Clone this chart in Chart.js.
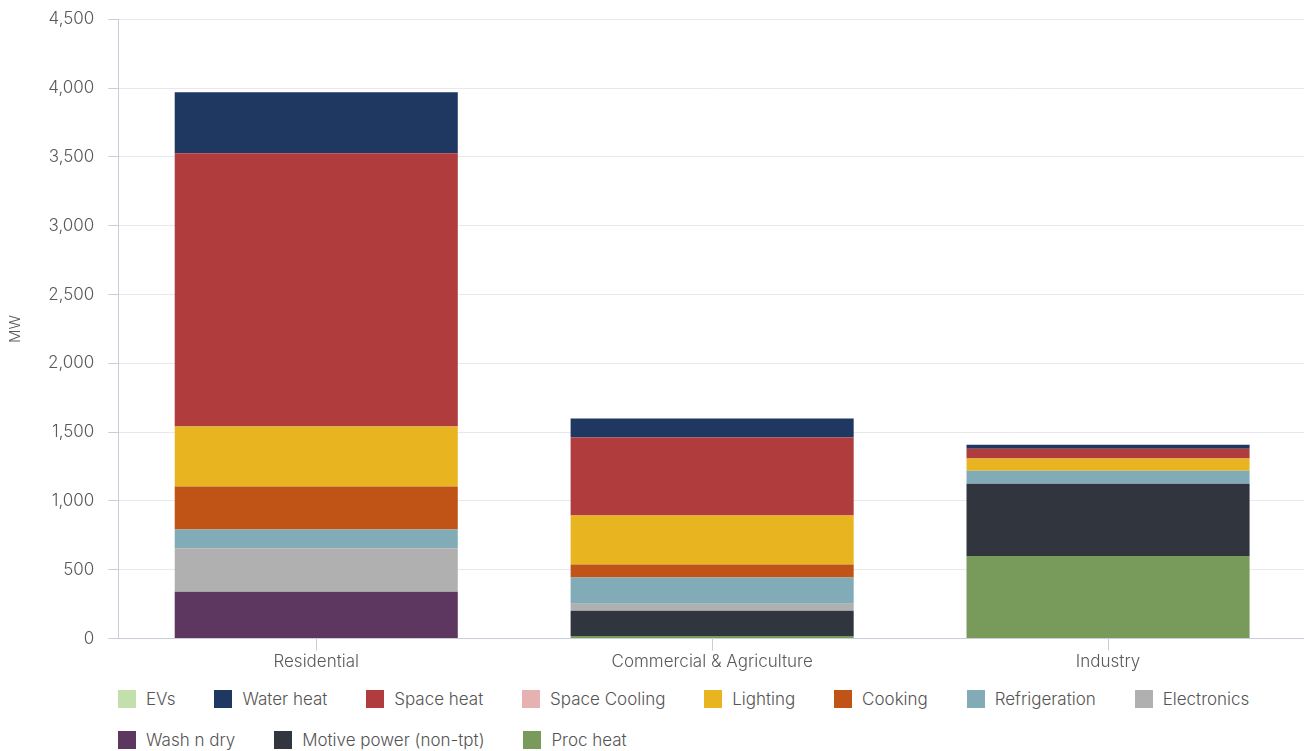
<!DOCTYPE html>
<html>
<head>
<meta charset="utf-8">
<script src="https://cdn.jsdelivr.net/npm/chart.js@4.4.1/dist/chart.umd.min.js"></script>
<style>
  html, body { margin: 0; padding: 0; background: #fff; overflow: hidden; }
  #wrap { position: relative; top: -5px; width: 1306px; height: 678px; }
  #legend {
    position: absolute; left: 118px; top: 690px; width: 1180px;
    display: flex; flex-wrap: wrap; row-gap: 23px;
    font-family: Inter, Roboto, sans-serif; font-weight: 300;
    font-size: 17px; color: #555;
  }
  .item { display: flex; align-items: center; margin-right: 38.8px; height: 18px; }
  .box { width: 18px; height: 18px; margin-right: 10px; }
</style>
</head>
<body>
<div id="wrap"><canvas id="chart"></canvas></div>
<div id="legend"></div>
<script>
const categories = ["Residential", "Commercial & Agriculture", "Industry"];

// stacked bottom to top
const procHeat      = [0, 18, 600];
const motivePower   = [0, 185, 525];
const washNDry      = [340, 0, 0];
const electronics   = [316, 50, 0];
const refrigeration = [136, 190, 95];
const cooking       = [313, 95, 0];
const lighting      = [436, 356, 88];
const spaceCooling  = [0, 0, 0];
const spaceHeat     = [1985, 567, 72];
const waterHeat     = [443, 138, 29];
const evs           = [0, 0, 0];

const yTicks = [0, 500, 1000, 1500, 2000, 2500, 3000, 3500, 4000, 4500];

const series = [
  { label: "Proc heat", data: procHeat, color: "#789b5c" },
  { label: "Motive power (non-tpt)", data: motivePower, color: "#31353e" },
  { label: "Wash n dry", data: washNDry, color: "#5e3761" },
  { label: "Electronics", data: electronics, color: "#b0b0b0" },
  { label: "Refrigeration", data: refrigeration, color: "#82abb8" },
  { label: "Cooking", data: cooking, color: "#c05416" },
  { label: "Lighting", data: lighting, color: "#e8b520" },
  { label: "Space Cooling", data: spaceCooling, color: "#e5b1b1" },
  { label: "Space heat", data: spaceHeat, color: "#b03c3e" },
  { label: "Water heat", data: waterHeat, color: "#1f3862" },
  { label: "EVs", data: evs, color: "#c3dfac" },
];

const axisCol = "#c9cdda";
const gridCol = "#e7e8ed";
const textCol = "#5a5a5a";
const font = { family: "Inter", size: 17, weight: 300 };

const ctx = document.getElementById("chart").getContext("2d");
const chart = new Chart(ctx, {
  type: "bar",
  data: {
    labels: categories,
    datasets: series.map(s => ({
      label: s.label,
      data: s.data,
      backgroundColor: s.color,
      borderWidth: 0,
      barPercentage: 1,
      categoryPercentage: 0.715,
    })),
  },
  options: {
    responsive: true,
    maintainAspectRatio: false,
    animation: false,
    layout: { padding: { top: 2, right: 0, left: 0, bottom: 0 } },
    plugins: {
      legend: { display: false },
      tooltip: { enabled: false },
    },
    scales: {
      x: {
        stacked: true,
        grid: { drawOnChartArea: false, offset: false, tickLength: 12, color: axisCol },
        border: { color: axisCol },
        ticks: { color: textCol, padding: 1, font: font },
      },
      y: {
        stacked: true,
        min: 0,
        max: 4500,
        afterBuildTicks: axis => { axis.ticks = yTicks.map(v => ({ value: v })); },
        grid: { color: gridCol, tickColor: axisCol, tickLength: 10 },
        border: { color: axisCol },
        ticks: {
          color: textCol, padding: 14, font: font,
          callback: v => v.toLocaleString("en-US"),
        },
        title: {
          display: true, text: "MW", color: textCol,
          padding: { top: 6, bottom: 10 },
          font: { family: "Inter", size: 15, weight: 300 },
        },
      },
    },
  },
});

// legend in the original order (top of stack first)
const legend = document.getElementById("legend");
series.slice().reverse().forEach(s => {
  const item = document.createElement("div");
  item.className = "item";
  const box = document.createElement("span");
  box.className = "box";
  box.style.background = s.color;
  const txt = document.createElement("span");
  txt.textContent = s.label;
  item.appendChild(box);
  item.appendChild(txt);
  legend.appendChild(item);
});
</script>
</body>
</html>
